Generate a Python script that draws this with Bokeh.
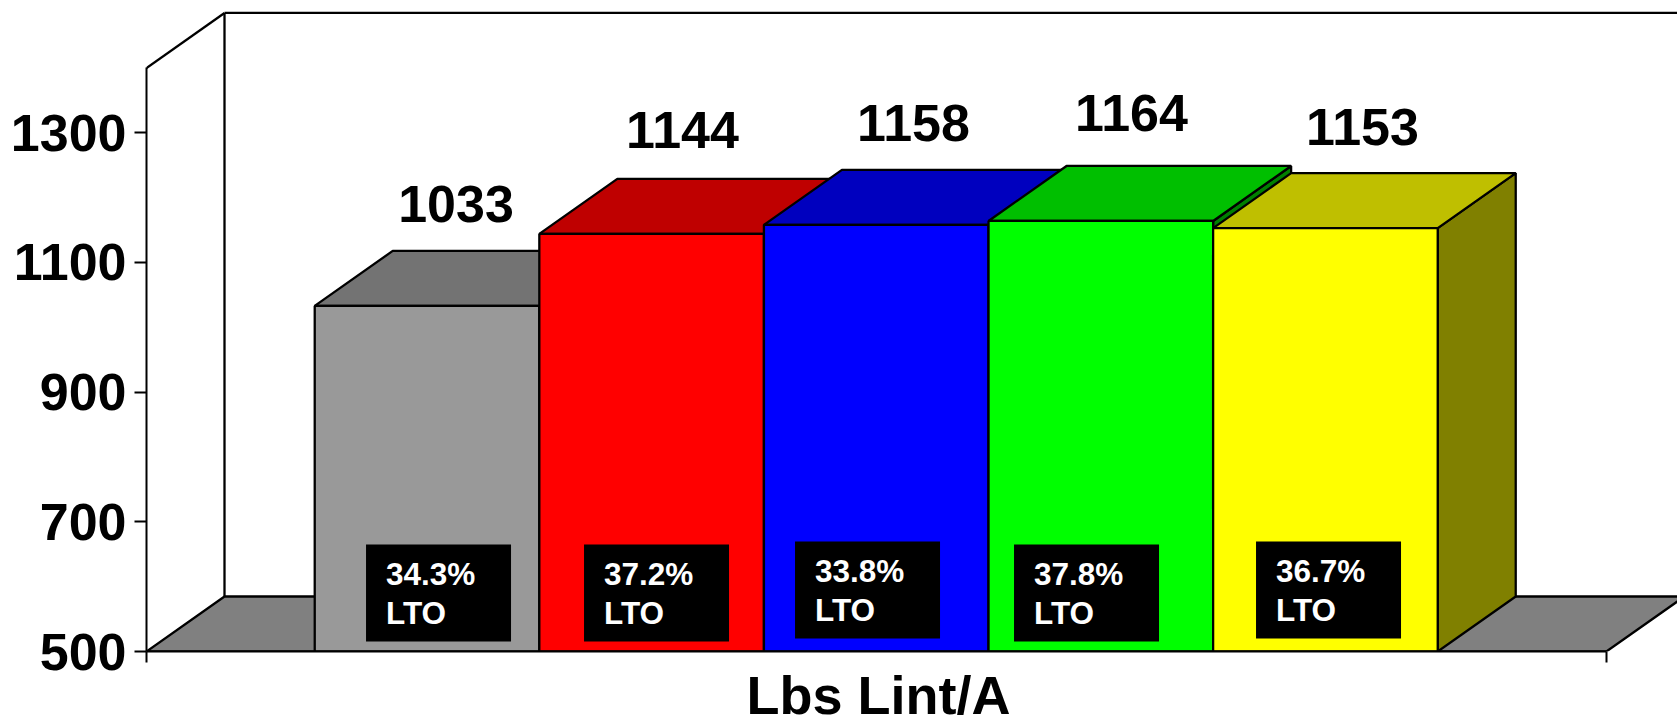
from bokeh.plotting import figure
from bokeh.models import FixedTicker, Range1d, Title
from bokeh.core.properties import value
from bokeh.embed import file_html
from bokeh.resources import INLINE

values = [1033, 1144, 1158, 1164, 1153]
value_labels = ["1033", "1144", "1158", "1164", "1153"]
lto = ["34.3%", "37.2%", "33.8%", "37.8%", "36.7%"]
front_colors = ["#999999", "#ff0000", "#0000ff", "#00ff00", "#ffff00"]
top_colors = ["#737373", "#bf0000", "#0000bf", "#00bf00", "#bfbf00"]
side_colors = ["#666666", "#800000", "#000080", "#008000", "#808000"]
y_ticks = [500, 700, 900, 1100, 1300]
axis_title = "Lbs Lint/A"

W, H = 1677, 728
LEFT = 146
FRAME_H = 651
BAR_PX = 224.6
Y_PX = 0.6484
FONT = "Liberation Sans"
X0, X1 = -0.749, 5.751
DX, DY = 78 / BAR_PX, 55 / Y_PX
Y0, YTOP = 500, 1400
LW = 2.3

p = figure(width=W, height=H, output_backend="svg", toolbar_location=None,
           x_range=Range1d(X0, X0 + (W - LEFT) / BAR_PX),
           y_range=Range1d(Y0, Y0 + FRAME_H / Y_PX),
           min_border_left=LEFT, min_border_right=0, min_border_top=0,
           min_border_bottom=H - FRAME_H, outline_line_color=None)
p.grid.visible = False

# back wall and floor
p.segment([X0, X0 + DX], [YTOP, YTOP + DY], [X0 + DX, X0 + DX], [YTOP + DY, Y0 + DY],
          line_color="black", line_width=LW)
p.segment([X0 + DX], [YTOP + DY], [X1 + DX], [YTOP + DY], line_color="black", line_width=LW)
p.patch([X0, X1, X1 + DX, X0 + DX], [Y0, Y0, Y0 + DY, Y0 + DY],
        fill_color="#808080", line_color="black", line_width=LW)

# bars, drawn from the left so that each one overlaps the last
for i, v in enumerate(values):
    l, r = float(i), i + 1.0
    p.patch([r, r + DX, r + DX, r], [Y0, Y0 + DY, v + DY, v],
            fill_color=side_colors[i], line_color="black", line_width=LW)
    p.patch([l, r, r + DX, l + DX], [v, v, v + DY, v + DY],
            fill_color=top_colors[i], line_color="black", line_width=LW)
    p.quad(left=[l], right=[r], bottom=[Y0], top=[v],
           fill_color=front_colors[i], line_color="black", line_width=LW)

# LTO boxes (page pixels converted to data)
box_left_px = [366, 584, 795, 1014, 1256]
box_top_px = [544, 544, 541, 544, 541]
def dx(px): return (px - 314.7) / BAR_PX
def dy(py): return Y0 + (651 - py) / Y_PX
p.quad(left=[dx(a) for a in box_left_px], right=[dx(a + 145) for a in box_left_px],
       top=[dy(b) for b in box_top_px], bottom=[dy(b + 97) for b in box_top_px],
       fill_color="black", line_color=None)
p.text([dx(a + 20) for a in box_left_px], [dy(b + 41) for b in box_top_px], text=lto,
       text_color="white", text_font=value(FONT), text_font_style="bold",
       text_font_size="31.5px", text_baseline="alphabetic", text_align="left", y_offset=-11.7)
p.text([dx(a + 20) for a in box_left_px], [dy(b + 80) for b in box_top_px],
       text=["LTO"] * 5,
       text_color="white", text_font=value(FONT), text_font_style="bold",
       text_font_size="31.5px", text_baseline="alphabetic", text_align="left", y_offset=-11.7)

# value labels above the bars
label_cx_px = [456, 682.5, 913.5, 1131.5, 1362.5]
label_base_px = [223, 149, 142.7, 132.3, 146.7]
p.text([dx(a) for a in label_cx_px], [dy(b) for b in label_base_px], text=value_labels,
       text_color="black", text_font=value(FONT), text_font_style="bold",
       text_font_size="52px", text_baseline="alphabetic", text_align="center", y_offset=-20)

# axes
ya = p.yaxis[0]
ya.bounds = (Y0, YTOP)
ya.ticker = FixedTicker(ticks=y_ticks)
ya.major_tick_out = 12
ya.major_tick_in = 0
ya.minor_tick_line_color = None
ya.major_tick_line_width = 2
ya.axis_line_width = 2
ya.major_label_standoff = 8
ya.major_label_text_font = FONT
ya.major_label_text_font_style = "bold"
ya.major_label_text_font_size = "52px"
ya.major_label_text_color = "black"

xa = p.xaxis[0]
xa.bounds = (X0, X1)
xa.ticker = FixedTicker(ticks=[X0, X1])
xa.major_label_overrides = {X0: "", X1: ""}
xa.major_label_standoff = 0
xa.major_tick_out = 11
xa.major_tick_in = 0
xa.minor_tick_line_color = None
xa.major_tick_line_width = 2
xa.axis_line_width = 2

p.add_layout(Title(text=axis_title, align="left", offset=600, standoff=0,
                   text_font=FONT, text_font_style="bold", text_font_size="54px",
                   text_line_height=0.5,
                   text_color="black"), "below")

open("out.html", "w").write(file_html(p, INLINE))
